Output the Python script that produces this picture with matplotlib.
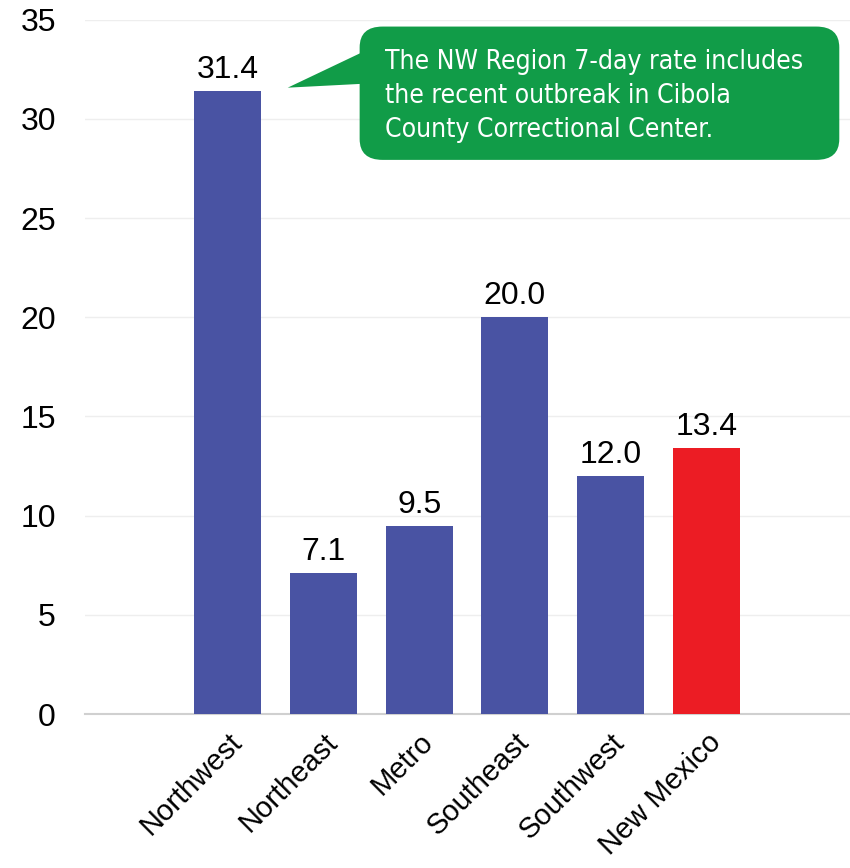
import matplotlib.pyplot as plt
from matplotlib.patches import FancyBboxPatch, Polygon
import numpy as np

regions = ['Northwest', 'Northeast', 'Metro', 'Southeast', 'Southwest', 'New Mexico']
rates = [31.4, 7.1, 9.5, 20.0, 12.0, 13.4]
colors = ['#4953A3', '#4953A3', '#4953A3', '#4953A3', '#4953A3', '#EC1C24']
note = 'The NW Region 7-day rate includes\nthe recent outbreak in Cibola\nCounty Correctional Center.'

plt.rcParams['font.family'] = ['Liberation Sans', 'DejaVu Sans']

fig = plt.figure(figsize=(8.5, 8.68), dpi=100)
ax = fig.add_axes([0.1, 0.1774, 0.9, 0.8])

x = np.arange(len(regions))
ax.bar(x, rates, width=0.7, color=colors, zorder=3)
for xi, v in zip(x, rates):
    ax.text(xi, v + 0.3, '%.1f' % v, ha='center', va='bottom', fontsize=23, color='black')

ax.set_xlim(-1.49, 6.5)
ax.set_ylim(0, 35)
ax.set_yticks(range(0, 36, 5))
ax.set_xticks(x)
ax.set_xticklabels(regions, rotation=45, ha='right', rotation_mode='anchor', fontsize=21)
ax.tick_params(axis='y', labelsize=23, length=0, pad=21)
ax.tick_params(axis='x', length=0, pad=10)
ax.grid(axis='y', color='#eeeeee', linewidth=1, zorder=0)
for s in ['top', 'right', 'left']:
    ax.spines[s].set_visible(False)
ax.spines['bottom'].set_color('#d0d0d0')
ax.spines['bottom'].set_linewidth(1.5)

# callout
green = '#119C48'
box = FancyBboxPatch((0.359, 0.798), 0.627, 0.192, boxstyle='round,pad=0,rounding_size=0.03',
                     transform=ax.transAxes, facecolor=green, edgecolor='none', clip_on=False, zorder=5)
ax.add_patch(box)
tri = Polygon([(0.265, 0.902), (0.37, 0.957), (0.37, 0.908)], closed=True,
              transform=ax.transAxes, facecolor=green, edgecolor='none', clip_on=False, zorder=5)
ax.add_patch(tri)
ax.text(0.392, 0.89, note, transform=ax.transAxes, ha='left', va='center', color='white',
        fontsize=19, linespacing=1.4, zorder=6, family='DejaVu Sans', stretch='condensed')

fig.savefig('out.png', dpi=100)
